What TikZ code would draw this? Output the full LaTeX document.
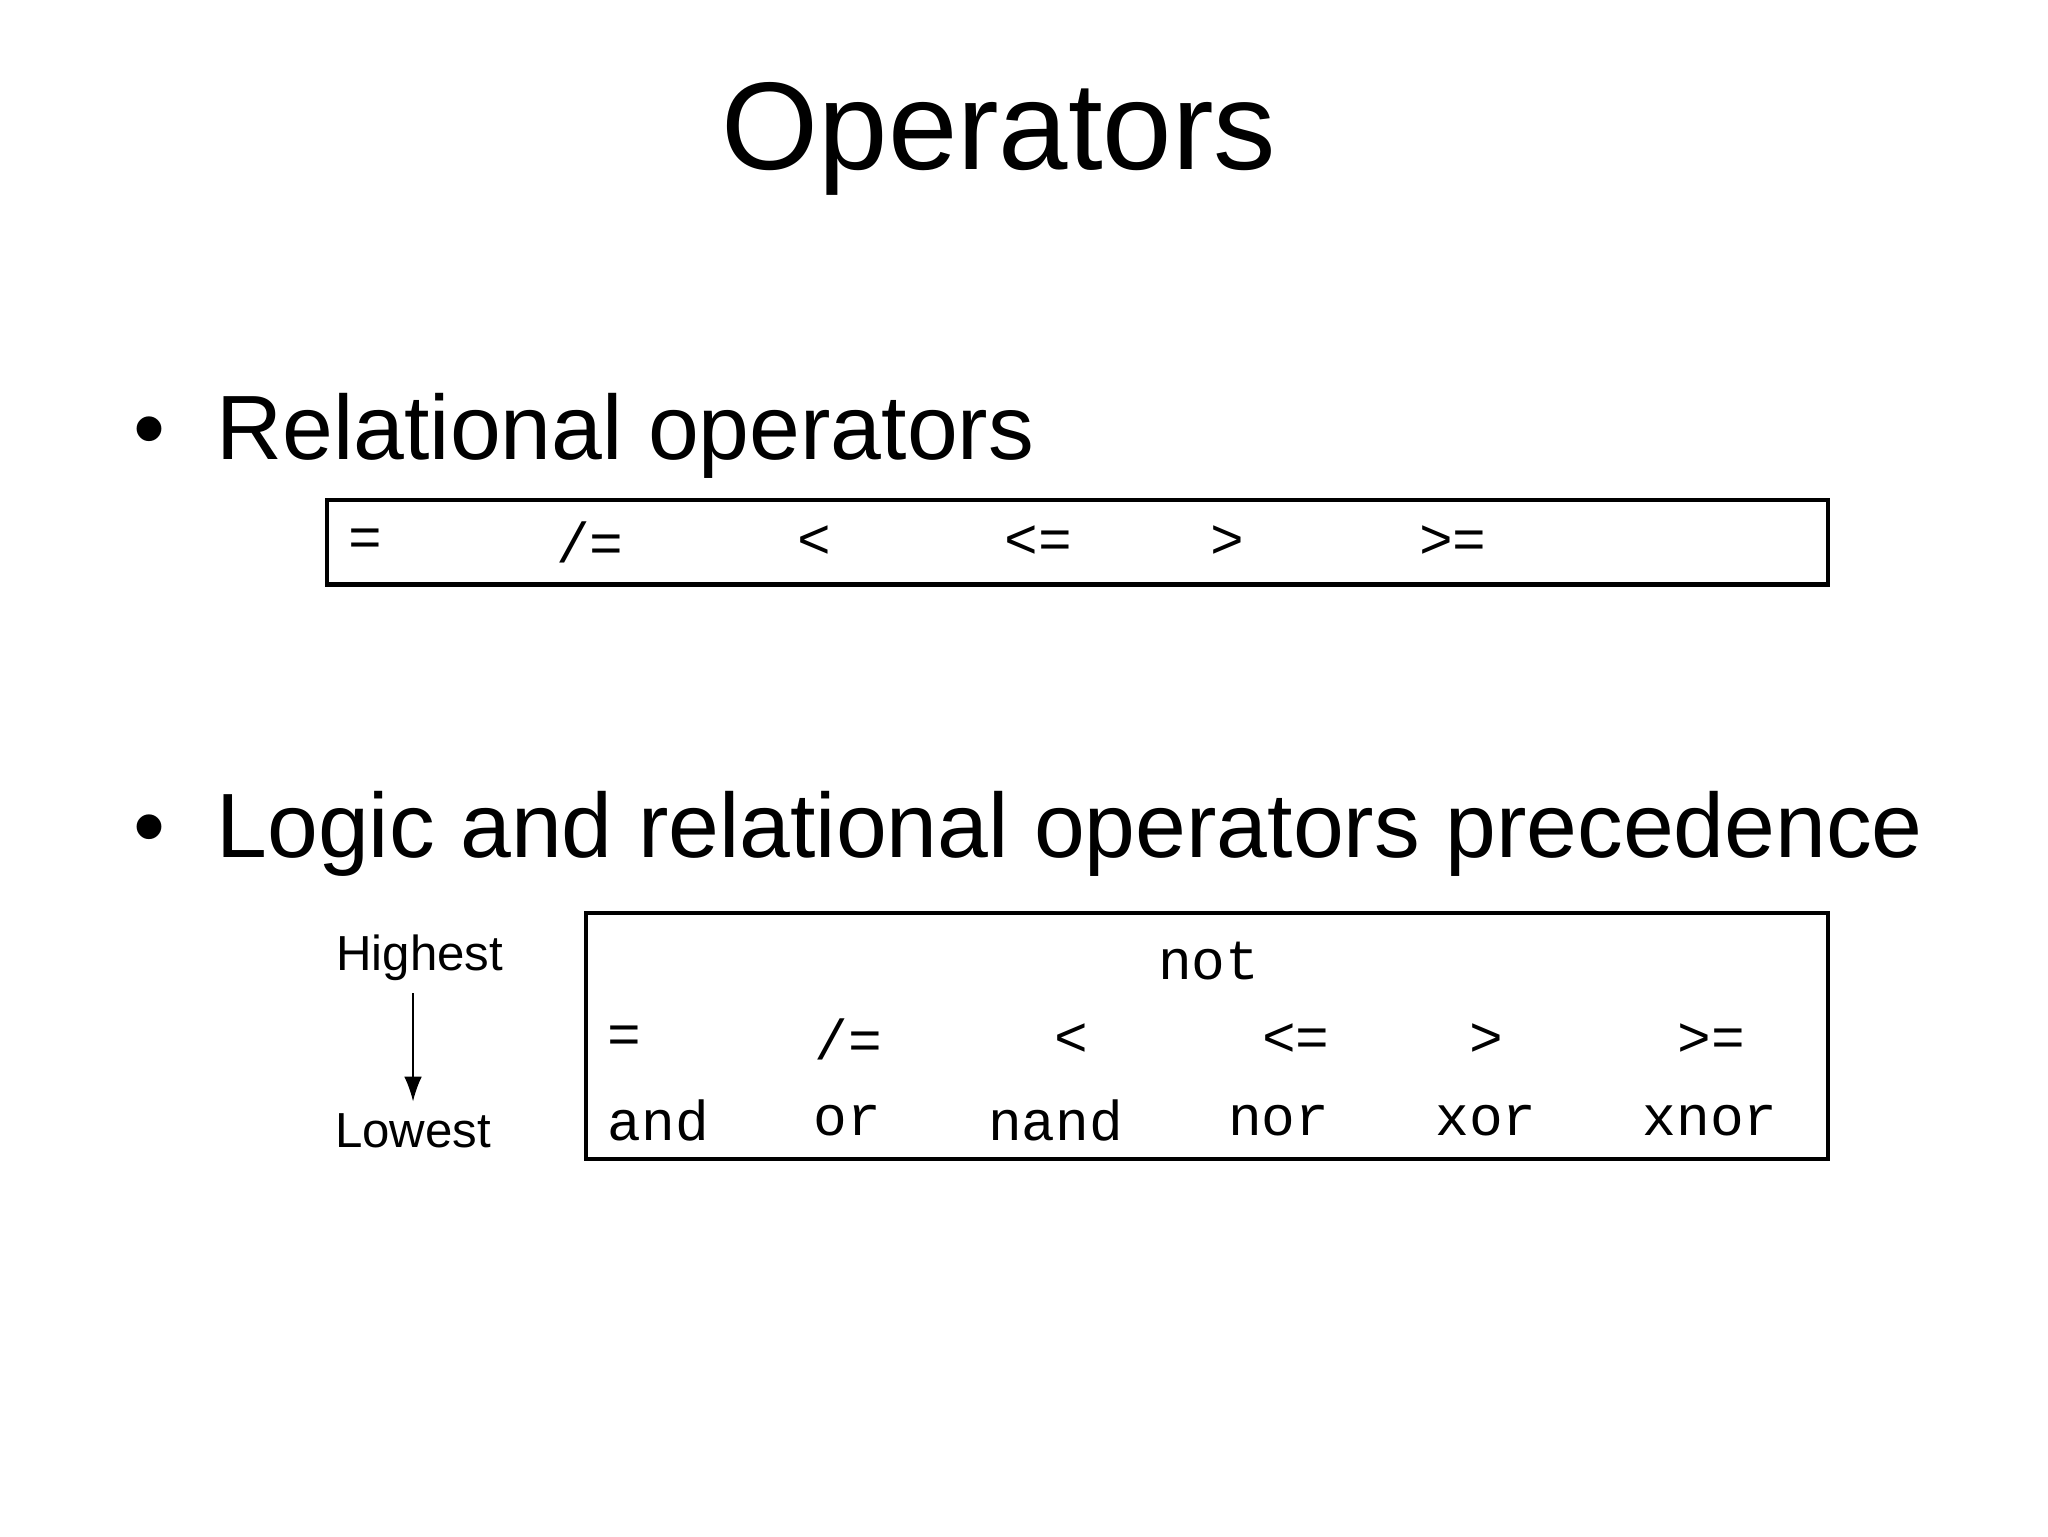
\documentclass[tikz,border=0pt]{standalone}
\usepackage{fontspec}
\setmainfont{Liberation Sans}
\setmonofont{Liberation Mono}
\usetikzlibrary{arrows.meta}
\tikzset{
  title/.style={font=\fontsize{35.5}{40}\selectfont},
  bullet/.style={font=\fontsize{26}{30}\selectfont, anchor=west},
  op/.style={font=\ttfamily\fontsize{16}{18}\selectfont},
  side/.style={font=\fontsize{14}{16}\selectfont},
  opbox/.style={draw, line width=1.2pt}
}
\begin{document}
\begin{tikzpicture}[x=0.0132cm,y=-0.0132cm]
  \useasboundingbox (0,0) rectangle (1552,1164);

  \node[title] (title) at (757,105) {Operators};

  % relational operators
  \node[bullet] (rel) at (92,330) {\textbullet\ \ Relational operators};
  \draw[opbox] (248,379) rectangle (1385,443);
  \node[op] (r1) at (277,411) {=};
  \node[op] (r2) at (447,411) {/=};
  \node[op] (r3) at (617,411) {<};
  \node[op] (r4) at (787,411) {<=};
  \node[op] (r5) at (930,411) {>};
  \node[op] (r6) at (1101,411) {>=};

  % precedence
  \node[bullet] (prec) at (92,632) {\textbullet\ \ Logic and relational operators precedence};
  \draw[opbox] (444,692) rectangle (1385,878);
  \node[op] (nt) at (916,728) {not};
  \node[op] (q1) at (473,788) {=};
  \node[op] (q2) at (643,788) {/=};
  \node[op] (q3) at (812,788) {<};
  \node[op] (q4) at (982,788) {<=};
  \node[op] (q5) at (1126,788) {>};
  \node[op] (q6) at (1297,788) {>=};
  \node[op] (l1) at (499,849) {and};
  \node[op] (l2) at (642,849) {or};
  \node[op] (l3) at (800,849) {nand};
  \node[op] (l4) at (969,849) {nor};
  \node[op] (l5) at (1126,849) {xor};
  \node[op] (l6) at (1296,849) {xnor};

  \node[side] (hi) at (318,726) {Highest};
  \node[side] (lo) at (313,857) {Lowest};
  \draw[-{Latex[length=7pt,width=5pt]}] (hi.south -| lo) -- (lo.north);
\end{tikzpicture}
\end{document}
